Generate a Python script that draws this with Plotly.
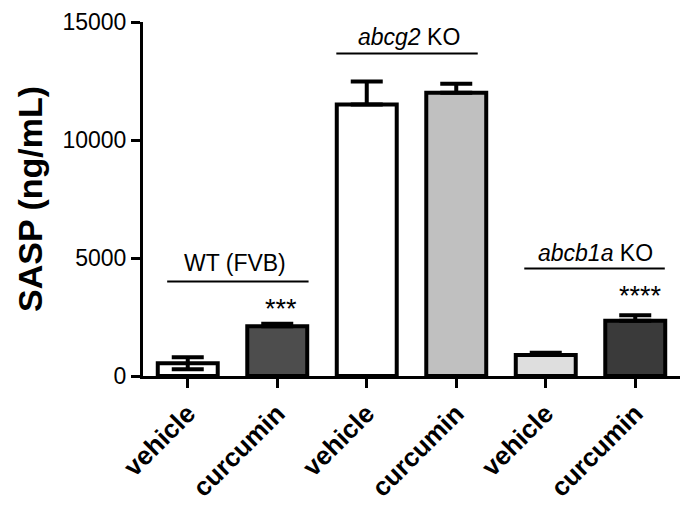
import plotly.graph_objects as go

tick_labels = ["vehicle", "curcumin", "vehicle", "curcumin", "vehicle", "curcumin"]
values = [540, 2110, 11500, 12000, 890, 2340]
err_plus = [250, 100, 980, 380, 100, 230]
err_minus = [250, 0, 0, 0, 0, 0]
bar_colors = ["#ffffff", "#4d4d4d", "#ffffff", "#c0c0c0", "#dedede", "#3a3a3a"]

y_ticks = [0, 5000, 10000, 15000]
y_tick_labels = ["0", "5000", "10000", "15000"]

groups = ["WT (FVB)", "<i>abcg2</i> KO", "<i>abcb1a</i> KO"]
group_line_x = [(-0.23, 1.35), (1.66, 3.24), (3.76, 5.33)]
group_line_y = [4000, 13660, 4550]
group_text_x = [0.53, 2.47, 4.56]
group_text_y = [4780, 14370, 5230]

stars = ["***", "****"]
star_x = [1.04, 5.06]
star_y = [2850, 3400]

FONT = "Liberation Sans, Arial, sans-serif"
xs = list(range(len(values)))

fig = go.Figure()
fig.add_trace(go.Bar(
    x=xs, y=values, width=0.67,
    marker=dict(color=bar_colors, line=dict(color="black", width=4)),
    error_y=dict(type="data", array=err_plus, arrayminus=err_minus, symmetric=False,
                 color="black", thickness=4, width=16),
    showlegend=False,
))

shapes = []
for (x0, x1), y in zip(group_line_x, group_line_y):
    shapes.append(dict(type="line", xref="x", yref="y", x0=x0, x1=x1, y0=y, y1=y,
                       line=dict(color="black", width=2)))

annotations = []
for t, x, y in zip(groups, group_text_x, group_text_y):
    annotations.append(dict(text=t, x=x, y=y, xref="x", yref="y", showarrow=False,
                            font=dict(family=FONT, size=23, color="black"),
                            xanchor="center", yanchor="middle"))
for t, x, y in zip(stars, star_x, star_y):
    annotations.append(dict(text=t, x=x, y=y, xref="x", yref="y", showarrow=False,
                            font=dict(family=FONT, size=27, color="black"),
                            xanchor="center", yanchor="middle"))

fig.update_layout(
    width=686, height=500,
    margin=dict(l=135, r=14, t=14, b=132),
    paper_bgcolor="white", plot_bgcolor="white",
    font=dict(family=FONT, color="black"),
    shapes=shapes, annotations=annotations,
)
fig.update_xaxes(
    range=[-0.5, 5.5], tickmode="array", tickvals=xs, ticktext=["<b>%s</b>" % t for t in tick_labels],
    tickangle=-45, tickfont=dict(family=FONT, size=26, color="black"),
    showline=True, linecolor="black", linewidth=3, ticks="outside", ticklen=9, tickwidth=3,
    tickcolor="black", showgrid=False, zeroline=False, automargin=False,
)
fig.update_yaxes(
    range=[0, 15000], tickmode="array", tickvals=y_ticks, ticktext=y_tick_labels,
    tickfont=dict(family=FONT, size=23, color="black"), ticklabeloverflow="allow",
    showline=True, linecolor="black", linewidth=3, ticks="outside", ticklen=9, tickwidth=3,
    tickcolor="black", showgrid=False, zeroline=False, automargin=False,
    title=dict(text="<b>SASP (ng/mL)</b>", font=dict(family=FONT, size=34, color="black"), standoff=10),
)

fig.write_html("out.html")
